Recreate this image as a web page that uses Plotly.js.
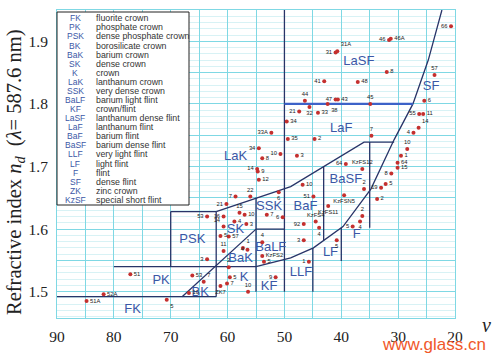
<!DOCTYPE html>
<html><head><meta charset="utf-8">
<script src="https://cdn.plot.ly/plotly-3.0.1.min.js"></script>
<style>html,body{margin:0;padding:0;background:#fff}#chart{width:500px;height:357px}</style>
</head><body><div id="chart"></div>
<script>
// ---- glass data points (Abbe number v_d, refractive index n_d, label) ----
const glassAbbe = [84.8,81.8,77.1,70.7,66.2,66.8,64.2,63.6,63.6,60.7,60.7,57.9,57.0,58.8,56.7,61.25,59.8,60.7,57.3,56.5,
  59.8,59.6,60.1,61.25,56.4,51.55,53.6,53.9,53.9,53.1,50.3,60.2,58.6,56.0,54.5,54.7,54.8,53.9,54.5,50.7,52.3,51.0,
  49.6,49.4,44.7,47.8,34.7,46.4,45.6,47.4,44.1,43.0,42.4,41.0,40.6,34.9,37.1,32.0,41.0,40.7,31.6,31.3,
  46.8,44.9,44.5,43.9,46.6,46.6,45.7,40.8,38.0,36.3,36.7,39.2,36.3,39.5,42.3,36.0,
  33.0,32.2,31.2,33.7,28.4,29.5,30.1,30.1,27.3,26.4,26.3,25.6,25.4,23.6,20.7];
const glassIndex = [1.485,1.496,1.528,1.487,1.526,1.498,1.516,1.552,1.620,1.620,1.604,1.626,1.623,1.612,1.608,1.589,1.588,1.565,1.570,1.567,
  1.539,1.523,1.513,1.509,1.500,1.523,1.548,1.557,1.579,1.623,1.619,1.640,1.652,1.652,1.679,1.692,1.696,1.713,1.729,1.720,1.754,1.659,
  1.772,1.744,1.744,1.717,1.749,1.805,1.795,1.788,1.786,1.836,1.800,1.807,1.807,1.800,1.835,1.851,1.882,1.884,1.902,1.904,
  1.671,1.652,1.612,1.602,1.608,1.582,1.548,1.582,1.604,1.621,1.612,1.704,1.696,1.654,1.637,1.664,
  1.666,1.672,1.689,1.648,1.728,1.717,1.706,1.698,1.754,1.762,1.784,1.784,1.805,1.846,1.924];
const glassLabels = ["51A","52A","51","5","53","10","7","3","53","16","14","15","10","4","3","5","57","11","1","4",
  "2","5","7","ZK7","10","9","5","KzFS2","4","7","6","21","7","22","12","9","14","8","34","10","33A","6",
  "34","35","2","3","7","44","32","21","33","41","38","47","43","45","48","8","31","31A","46","46A",
  "10","51","KzFS4","4","92","3","1","5","5","2","4","64","KzFS12","KzFSN5","KzFS11","2",
  "19","5","8","2","10","1","64","15","4","14","55","11","6","57","66"];
// label placement (style only)
const labelPos = ["middle right","middle right","middle right","bottom right","middle right","middle right","top right","middle left","middle left","middle left",
  "top left","top center","middle right","middle right","middle right","middle right","middle right","top center","top right","middle left",
  "top center","middle right","middle right","bottom center","top center","middle left","middle right","middle right","top center","middle right","middle left",
  "middle left","middle left","top center","middle right","middle right","middle left","middle right","middle left","middle left","middle left","bottom center",
  "middle right","middle right","middle right","middle right","top center","top center","bottom center","middle left","middle right","middle left","bottom right","middle left","middle right","top center","middle right","middle right","middle left","top right","middle left","middle right",
  "middle right","middle left","top center","bottom center","middle left","middle left","middle left","bottom center","middle left","top center","bottom center","middle left","top center","bottom center","bottom center","top center",
  "middle left","middle right","middle left","middle right","top center","middle right","middle right","middle right","middle left","top right","middle left","middle right","middle right","top center","middle left"];

// ---- region names placed in the diagram ----
const regionNames = ["FK","PK","PSK","BK","BaK","SK","K","KF","BaLF","SSK","LaK","LaF","LaSF","SF","BaSF","BaF","LLF","LF","F"];
const regionAbbe  = [76.7,71.7,66.2,64.8,57.7,58.6,57.1,52.7,52.4,52.7,58.6,40.0,36.9,24.2,39.2,46.3,47.1,41.9,37.3];
const regionIndex = [1.471,1.517,1.583,1.498,1.552,1.599,1.523,1.508,1.570,1.636,1.715,1.761,1.868,1.827,1.679,1.635,1.531,1.562,1.591];

// ---- region boundary polylines ----
const boundaryAbbe = [
  [90,62],[80,55],[55,48.9,44.9,39.7,34.8,30.7,27.4,24.7,22.3],
  [70,70],[70,62],[62,62],[68,55],[62,48.9,36.0,30.7],
  [55,55],[55,50],[50,50],[45,45],[43.1,43.1],[40,40],[35,35]
];
const boundaryIndex = [
  [1.492,1.492],[1.540,1.540],[1.540,1.554,1.570,1.604,1.664,1.743,1.800,1.870,1.950],
  [1.540,1.628],[1.628,1.628],[1.628,1.492],[1.492,1.600],[1.628,1.668,1.739,1.739],
  [1.650,1.500],[1.600,1.600],[1.950,1.500],[1.570,1.500],[1.700,1.582],[1.602,1.549],[1.739,1.602]
];
const lanthanumLineAbbe = [50,27.4];
const lanthanumLineIndex = [1.800,1.800];

// ---- legend table ----
const legendCodes = ["FK","PK","PSK","BK","BaK","SK","K","LaK","SSK","BaLF","KF","LaSF","LaF","BaF","BaSF","LLF","LF","F","SF","ZK","KzSF"];
const legendNames = ["fluorite crown","phosphate crown","dense phosphate crown","borosilicate crown","barium crown","dense crown","crown",
  "lanthanum crown","very dense crown","barium light flint","crown/flint","lanthanum dense flint","lanthanum flint","barium flint",
  "barium dense flint","very light flint","light flint","flint","dense flint","zinc crown","special short flint"];

// ---- ticks ----
const xTickVals = [90,85,80,75,70,65,60,55,50,45,40,35,30,25,20];
const xTickText = ["90"," ","80"," ","70"," ","60"," ","50"," ","40"," ","30"," ","20"];
const yTickVals = [1.5,1.55,1.6,1.65,1.7,1.75,1.8,1.85,1.9];
const yTickText = ["1.5"," ","1.6"," ","1.7"," ","1.8"," ","1.9"];

// ---- build ----
const W = 500, H = 357, ML = 57, MR = 45, MT = 10, MB = 39;
const PW = W - ML - MR, PH = H - MT - MB;
const px = x => (x - ML) / PW;
const py = y => (H - MB - y) / PH;

const traces = [];
boundaryAbbe.forEach((bx, i) => {
  traces.push({x: bx, y: boundaryIndex[i], mode: 'lines', type: 'scatter',
    line: {color: '#283468', width: 1.3}, hoverinfo: 'skip'});
});
traces.push({x: lanthanumLineAbbe, y: lanthanumLineIndex, mode: 'lines', type: 'scatter',
  line: {color: '#3d62c8', width: 2.2}, hoverinfo: 'skip'});
traces.push({x: regionAbbe, y: regionIndex, text: regionNames, mode: 'text', type: 'scatter',
  textfont: {family: 'Liberation Sans, Arial, sans-serif', size: 13, color: '#3b57a6'}});
traces.push({x: glassAbbe, y: glassIndex, text: glassLabels, textposition: labelPos,
  mode: 'markers+text', type: 'scatter',
  marker: {color: '#c4302f', size: 4},
  textfont: {family: 'Liberation Sans, Arial, sans-serif', size: 5.8, color: '#222'}});

const annotations = [];
legendCodes.forEach((c, i) => {
  const yy = 18.3 + i * 9.08;
  annotations.push({xref: 'paper', yref: 'paper', x: px(75), y: py(yy), text: c, showarrow: false,
    xanchor: 'center', yanchor: 'middle', font: {family: 'Liberation Sans, Arial', size: 8.5, color: '#3b57a6'}});
  annotations.push({xref: 'paper', yref: 'paper', x: px(94), y: py(yy), text: legendNames[i], showarrow: false,
    xanchor: 'left', yanchor: 'middle', font: {family: 'Liberation Sans, Arial', size: 8.8, color: '#333'}});
});
annotations.push({xref: 'paper', yref: 'paper', x: px(15), y: py(172), textangle: -90, showarrow: false,
  xanchor: 'center', yanchor: 'middle',
  text: 'Refractive index <i>n<sub>d</sub></i>  (<i>λ</i>= 587.6 nm)',
  font: {family: 'Liberation Serif, Times New Roman, serif', size: 20.5, color: '#222'}});
annotations.push({xref: 'paper', yref: 'paper', x: px(486), y: py(325), showarrow: false,
  xanchor: 'center', yanchor: 'middle', text: '<i>ν</i>',
  font: {family: 'Liberation Serif, Times New Roman, serif', size: 20, color: '#222'}});
annotations.push({xref: 'paper', yref: 'paper', x: px(434), y: py(344), showarrow: false,
  xanchor: 'center', yanchor: 'middle', text: 'www.glass.cn',
  font: {family: 'Liberation Sans, Arial', size: 17, color: '#f0582a'}});

const layout = {
  width: W, height: H,
  margin: {l: ML, r: MR, t: MT, b: MB},
  paper_bgcolor: '#fff', plot_bgcolor: '#fff',
  showlegend: false,
  xaxis: {range: [90, 20], autorange: false, tickmode: 'array', tickvals: xTickVals, ticktext: xTickText,
    showgrid: true, gridcolor: '#7fd8e4', gridwidth: 1, zeroline: false,
    showline: true, linecolor: '#7fd8e4', mirror: true, ticks: '', ticklabelstandoff: 4,
    tickfont: {family: 'Liberation Serif, Times New Roman, serif', size: 15.5, color: '#222'}},
  yaxis: {range: [1.458, 1.950], autorange: false, tickmode: 'array', tickvals: yTickVals, ticktext: yTickText,
    showgrid: true, gridcolor: '#7fd8e4', gridwidth: 1, zeroline: false,
    showline: true, linecolor: '#7fd8e4', mirror: true, ticks: '', ticklabelstandoff: 5,
    minor: {tickmode: 'linear', tick0: 1.5, dtick: 0.01, showgrid: true, gridcolor: '#d8f2f5', gridwidth: 1, ticks: ''},
    tickfont: {family: 'Liberation Serif, Times New Roman, serif', size: 15.5, color: '#222'}},
  shapes: [{type: 'rect', xref: 'paper', yref: 'paper', x0: px(57), x1: px(189), y0: py(205), y1: py(12),
    fillcolor: '#fff', line: {color: '#222', width: 1}, layer: 'above'}],
  annotations: annotations
};
Plotly.newPlot('chart', traces, layout, {staticPlot: true, displayModeBar: false});
</script></body></html>
